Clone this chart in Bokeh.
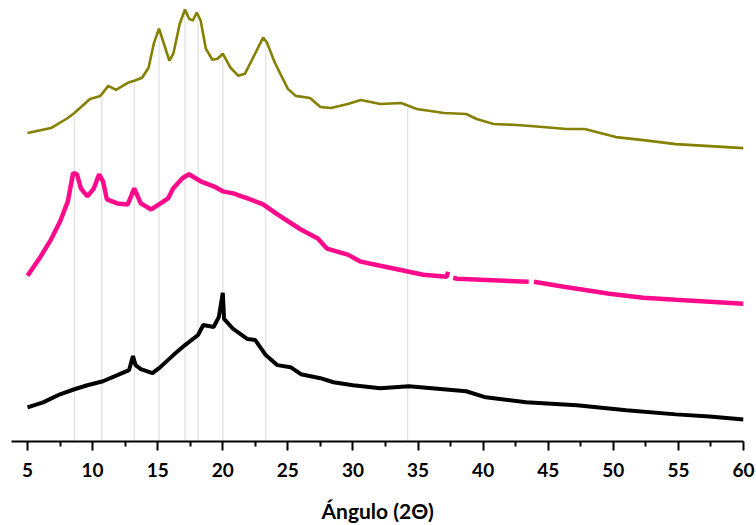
from bokeh.plotting import figure
from bokeh.models import Range1d, Segment, ColumnDataSource, FixedTicker
from bokeh.embed import file_html
from bokeh.resources import INLINE

nan = float("nan")

# --- data (2-theta, relative intensity with vertical offsets) ---
olive_x = [5.0, 6.8, 8.1, 8.6, 9.8, 10.6, 11.2, 11.8, 12.7, 13.2, 13.8, 14.3, 14.7, 15.1, 15.4,
           15.9, 16.2, 16.7, 17.1, 17.4, 17.7, 18.0, 18.3, 18.7, 19.2, 19.6, 20.0, 20.6, 21.2,
           21.7, 22.4, 23.1, 23.4, 24.0, 25.0, 25.6, 26.7, 27.5, 28.3, 29.6, 30.6, 32.1, 33.7,
           34.9, 37.0, 38.7, 39.5, 40.8, 42.6, 44.6, 46.4, 47.8, 48.7, 50.2, 52.3, 54.8, 57.4, 60.0]
olive_y = [307, 312, 322, 327, 341, 344, 354, 350, 357, 359, 362, 372, 396, 411, 399,
           379, 386, 416, 430, 421, 419, 427, 419, 391, 380, 381, 386, 372, 364,
           366, 384, 402, 397, 377, 351, 344, 342, 333, 332, 336, 340, 336, 337,
           331, 327, 326, 321, 316, 315, 313, 311, 311, 308, 303, 300, 296, 294, 292]

pink_x = [5.0, 6.0, 6.8, 7.5, 8.1, 8.5, 8.8, 9.1, 9.6, 10.1, 10.5, 10.8, 11.1, 11.9, 12.7, 13.2,
          13.7, 14.5, 15.1, 15.8, 16.2, 16.9, 17.4, 18.3, 19.3, 20.0, 20.8, 21.9, 23.1, 24.2,
          25.4, 26.0, 27.3, 28.0, 29.6, 30.6, 32.1, 34.3, 35.4, 37.2, 37.3, nan, 37.7, 38.0,
          43.5, nan, 43.9, 46.2, 49.7, 52.3, 54.8, 57.4, 60.0]
pink_y = [165, 184, 201, 219, 239, 267, 266, 252, 244, 252, 266, 259, 241, 237, 236, 252,
          237, 231, 236, 242, 252, 262, 266, 259, 254, 249, 247, 242, 236, 226,
          216, 211, 202, 192, 186, 179, 175, 169, 166, 164, 169, nan, 163, 162,
          159, nan, 159, 154, 147, 143, 141, 139, 137]

black_x = [5.0, 6.2, 7.5, 8.6, 9.6, 10.8, 11.9, 12.8, 13.1, 13.3, 13.7, 14.6, 15.2, 16.2, 17.1,
           18.1, 18.5, 19.3, 19.7, 20.0, 20.1, 20.8, 21.9, 22.5, 23.3, 24.2, 25.2, 26.0, 27.5,
           28.5, 30.0, 32.1, 34.3, 38.7, 40.2, 43.3, 47.2, 51.0, 54.8, 57.4, 60.0]
black_y = [34, 39, 47, 52, 56, 60, 66, 71, 85, 76, 72, 68, 74, 86, 96,
           106, 116, 114, 124, 148, 122, 112, 102, 101, 86, 76, 74, 67, 63,
           59, 56, 53, 55, 50, 44, 39, 36, 31, 27, 25, 22]

peak_x = [8.6, 10.7, 13.2, 15.1, 17.1, 18.1, 20.0, 23.3, 34.2]
peak_top = [324, 342, 359, 409, 429, 426, 384, 399, 332]

x_ticks = [5, 10, 15, 20, 25, 30, 35, 40, 45, 50, 55, 60]

p = figure(width=756, height=525, output_backend="svg", toolbar_location=None,
           x_range=Range1d(3.77, 60), y_range=Range1d(0, 431),
           min_border_left=11, min_border_right=13, min_border_top=8, min_border_bottom=0)
p.outline_line_color = None
p.grid.visible = False
p.yaxis.visible = False
p.background_fill_color = "white"
p.border_fill_color = "white"

src = ColumnDataSource(dict(x0=peak_x, y0=[0] * len(peak_x), x1=peak_x, y1=peak_top))
p.add_glyph(src, Segment(x0="x0", y0="y0", x1="x1", y1="y1", line_color="#C4C4C4",
                         line_width=1.3, line_dash="1 1"))

p.line(olive_x, olive_y, line_color="#858000", line_width=2.6)
p.line(pink_x, pink_y, line_color="#FF0A8A", line_width=4.5)
p.line(black_x, black_y, line_color="#000000", line_width=4)

ax = p.xaxis[0]
ax.ticker = FixedTicker(ticks=x_ticks, minor_ticks=[7.5 + 5 * i for i in range(11)])
ax.axis_line_width = 2
ax.axis_line_color = "black"
ax.major_tick_line_width = 2
ax.minor_tick_line_width = 2
ax.major_tick_in = 0
ax.major_tick_out = 9
ax.minor_tick_in = 0
ax.minor_tick_out = 5
ax.major_label_standoff = 12
ax.major_label_text_font = "Lato"
ax.major_label_text_font_style = "bold"
ax.major_label_text_font_size = "19px"
ax.major_label_text_color = "black"
ax.axis_label = "Ángulo (2Θ)"
ax.axis_label_text_font = "Lato"
ax.axis_label_text_font_style = "bold"
ax.axis_label_text_font_size = "21px"
ax.axis_label_text_color = "black"
ax.axis_label_standoff = 18

open("out.html", "w").write(file_html(p, INLINE))
